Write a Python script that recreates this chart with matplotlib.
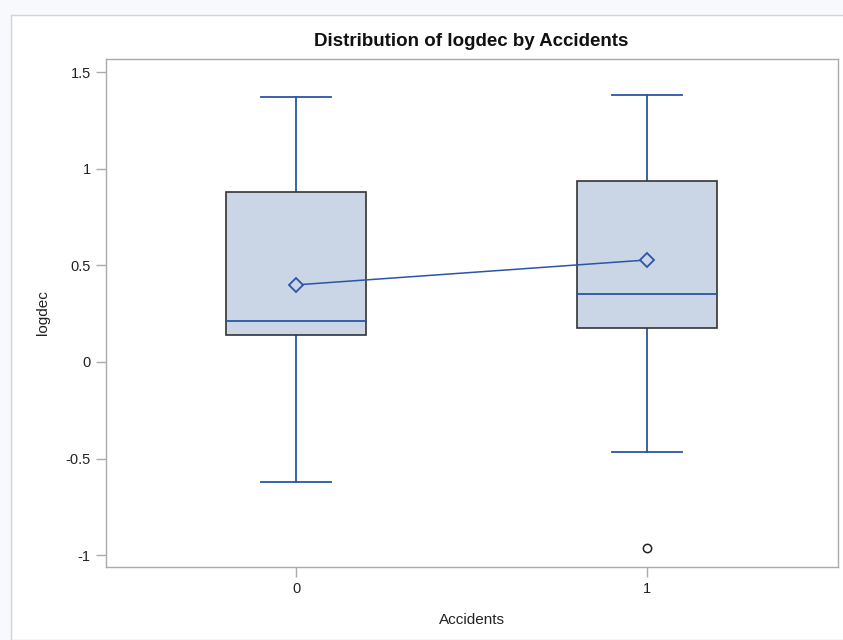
import matplotlib
matplotlib.use("Agg")
import matplotlib.pyplot as plt
from matplotlib.patches import Rectangle
import numpy as np

plt.rcParams['font.family'] = ['Liberation Sans', 'DejaVu Sans']

categories = ["0", "1"]
q1 = [0.140, 0.176]
median = [0.212, 0.352]
q3 = [0.880, 0.937]
whisker_low = [-0.621, -0.466]
whisker_high = [1.372, 1.382]
means = [0.399, 0.528]
outliers = [[], [-0.963]]
yticks = [-1, -0.5, 0, 0.5, 1, 1.5]
ytick_labels = ["-1", "-0.5", "0", "0.5", "1", "1.5"]

W, H = 843, 640
fig = plt.figure(figsize=(W / 100, H / 100), dpi=100)
fig.patch.set_facecolor('#F7F9FD')
# white panel
panel = Rectangle((11 / W, 0), 1.0, (H - 15) / H, transform=fig.transFigure,
                  facecolor='white', edgecolor='#D0D3D8', linewidth=1.0, zorder=-5)
fig.patches.append(panel)

ax = fig.add_axes([106 / W, (H - 567) / H, (838 - 106) / W, (567 - 59) / H])
ax.set_zorder(2)
ax.set_facecolor('white')

blue = '#2B55A6'
fill = '#CAD5E5'
edge = '#333333'
bw = 0.4
cw = 0.2
x = np.arange(len(categories))

for i in x:
    ax.add_patch(Rectangle((i - bw / 2, q1[i]), bw, q3[i] - q1[i], facecolor=fill,
                           edgecolor=edge, linewidth=1.2, zorder=2))
    ax.plot([i - bw / 2, i + bw / 2], [median[i], median[i]], color=blue, lw=1.3, zorder=3)
    ax.plot([i, i], [q3[i], whisker_high[i]], color=blue, lw=1.3, zorder=1)
    ax.plot([i, i], [whisker_low[i], q1[i]], color=blue, lw=1.3, zorder=1)
    ax.plot([i - cw / 2, i + cw / 2], [whisker_high[i]] * 2, color=blue, lw=1.3, zorder=1)
    ax.plot([i - cw / 2, i + cw / 2], [whisker_low[i]] * 2, color=blue, lw=1.3, zorder=1)
    for o in outliers[i]:
        ax.plot([i], [o], marker='o', ms=6, mfc='none', mec='#222222', mew=1.1, zorder=3)

ax.plot(x, means, color=blue, lw=1.1, zorder=4)
ax.plot(x, means, linestyle='none', marker='D', ms=7, mfc=fill, mec=blue, mew=1.3, zorder=5)

ax.set_xlim(-0.542, 1.544)
ax.set_ylim(-1.061, 1.568)
ax.set_xticks(x)
ax.set_xticklabels(categories)
ax.set_yticks(yticks)
ax.set_yticklabels(ytick_labels)

for s in ax.spines.values():
    s.set_color('#A8ABB0')
    s.set_linewidth(1.0)
ax.tick_params(axis='both', colors='#A8ABB0', labelcolor='#222222', labelsize=10.5,
               length=7, width=1.0, pad=4)

ax.set_xlabel("Accidents", fontsize=11, color='#222222', labelpad=12)
ax.set_ylabel("logdec", fontsize=11, color='#222222', labelpad=11)
fig.text((310 + 633) / 2 / W, 1 - 42 / H, "Distribution of logdec by Accidents",
         ha='center', va='center', fontsize=13.5, fontweight='bold', color='#111111')

fig.savefig("out.png", dpi=100, facecolor=fig.get_facecolor())
